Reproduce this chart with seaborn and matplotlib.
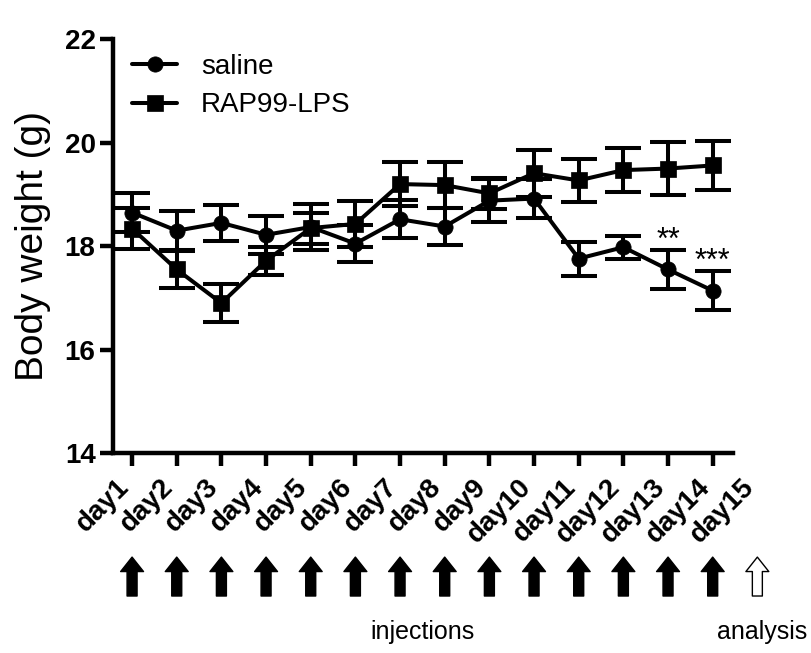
import numpy as np
import pandas as pd
import matplotlib
matplotlib.use("Agg")
import matplotlib.pyplot as plt
import matplotlib.transforms as mtransforms
import seaborn as sns

days = list(range(1, 15))
day_labels = ["day%d" % d for d in range(1, 16)]

saline_mean = [18.65, 18.30, 18.45, 18.22, 18.37, 18.05, 18.52, 18.38, 18.88, 18.92,
               17.76, 17.98, 17.55, 17.14]
saline_sem = [0.37, 0.38, 0.35, 0.37, 0.45, 0.35, 0.37, 0.36, 0.42, 0.38,
              0.33, 0.22, 0.37, 0.38]
rap_mean = [18.34, 17.55, 16.90, 17.72, 18.35, 18.43, 19.20, 19.18, 19.02, 19.41,
            19.27, 19.47, 19.50, 19.56]
rap_sem = [0.40, 0.35, 0.37, 0.27, 0.30, 0.44, 0.42, 0.44, 0.30, 0.45,
           0.41, 0.42, 0.51, 0.48]
stars = {13: "**", 14: "***"}

df = pd.DataFrame({
    "day": days * 2,
    "weight": saline_mean + rap_mean,
    "group": ["saline"] * 14 + ["RAP99-LPS"] * 14,
})

sns.set_style("ticks")
plt.rcParams["font.family"] = ["Liberation Sans", "DejaVu Sans"]
for k in ["text.color", "axes.labelcolor", "xtick.color", "ytick.color", "axes.edgecolor"]:
    plt.rcParams[k] = "black"

fig = plt.figure(figsize=(8.12, 6.53), dpi=100)
ax = fig.add_axes([0.139, 0.306, 0.764, 0.634])

lw = 2.9
sns.lineplot(data=df, x="day", y="weight", style="group", markers={"saline": "o", "RAP99-LPS": "s"},
             dashes=False, color="black", linewidth=lw, markersize=11, markeredgecolor="black",
             markeredgewidth=0.5, ax=ax, errorbar=None)
ax.errorbar(days, saline_mean, yerr=saline_sem, fmt="none", ecolor="black",
            elinewidth=lw, capsize=13, capthick=lw, zorder=3)
ax.errorbar(days, rap_mean, yerr=rap_sem, fmt="none", ecolor="black",
            elinewidth=lw, capsize=13, capthick=lw, zorder=3)

for d, s in stars.items():
    ax.text(d, saline_mean[d - 1] + saline_sem[d - 1] + 0.02, s, ha="center", va="baseline",
            fontsize=22)

ax.set_xlim(0.57, 14.46)
ax.set_ylim(14, 22)
ax.set_yticks([14, 16, 18, 20, 22])
ax.set_xticks(days)
ax.set_xticklabels([])
for lab in ax.get_yticklabels():
    lab.set_fontweight("bold")
    lab.set_fontsize(20)
ax.set_xlabel("")
ax.set_ylabel("Body weight (g)", fontsize=28, labelpad=10)

for side in ["top", "right"]:
    ax.spines[side].set_visible(False)
for side in ["left", "bottom"]:
    ax.spines[side].set_linewidth(3.2)
ax.tick_params(axis="both", width=3.2, length=9.5, color="black")
ax.tick_params(axis="y", pad=3)

# day labels, rotated
trans = mtransforms.blended_transform_factory(ax.transData, ax.transAxes)
lab_off = mtransforms.ScaledTranslation(-0.07, -(9.5 + 12) / 72, fig.dpi_scale_trans)
for i, lab in enumerate(day_labels):
    ax.text(i + 1, 0, lab, transform=trans + lab_off, rotation=45, ha="right", va="center",
            rotation_mode="anchor", fontweight="bold", fontsize=20, clip_on=False)

# injection arrows
for d in range(1, 16):
    fc = "black" if d < 15 else "white"
    ax.annotate("", xy=(d, -0.251), xytext=(d, -0.345), xycoords=trans, textcoords=trans,
                arrowprops=dict(arrowstyle="simple,head_length=0.65,head_width=1.03,tail_width=0.45",
                                fc=fc, ec="black", lw=1, mutation_scale=16,
                                shrinkA=0, shrinkB=0), annotation_clip=False)

ax.text(7.5, -0.432, "injections", transform=trans, ha="center", va="center", fontsize=18)
ax.text(15.1, -0.432, "analysis", transform=trans, ha="center", va="center", fontsize=18)

leg = ax.legend(loc="upper left", bbox_to_anchor=(-0.01, 1.025), frameon=False, fontsize=20,
                handlelength=1.65, handletextpad=0.85, labelspacing=0.45)
for h in leg.legend_handles:
    h.set_markersize(11)
    h.set_linewidth(lw)

fig.savefig("out.png", dpi=100)
